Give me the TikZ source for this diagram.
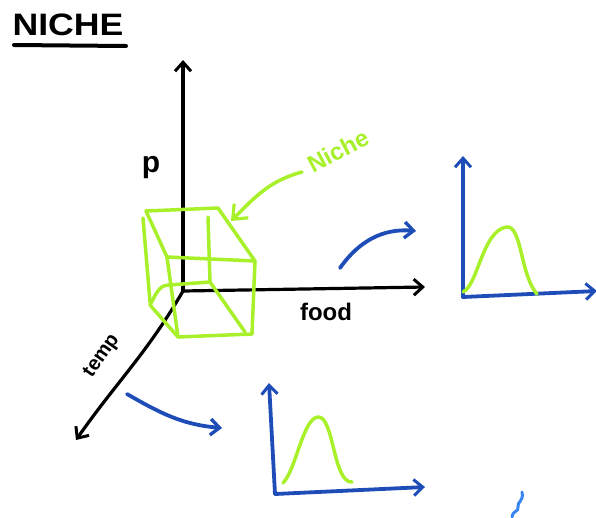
\documentclass[tikz,border=0pt]{standalone}
\usepackage{fontspec}
\setmainfont{Liberation Sans}
\usetikzlibrary{arrows.meta}
\definecolor{lime}{HTML}{A8F02A}
\definecolor{ink}{HTML}{1E4DB8}
\definecolor{sky}{HTML}{3A86F0}
\tikzset{
  blk/.style={line width=3.2pt, black, line cap=round, line join=round},
  axisarrow/.style={-{Straight Barb[length=9pt,width=16pt,line width=3pt]}},
  bl/.style={line width=3.8pt, ink, line cap=round, line join=round},
  gr/.style={line width=3.5pt, lime, line cap=round, line join=round},
  lbl/.style={font=\bfseries, inner sep=0pt},
}
\begin{document}
\begin{tikzpicture}[x=1pt,y=-1pt]
\useasboundingbox (0,0) rectangle (596,517);
% title
\node[lbl, font=\bfseries\fontsize{31}{33}\selectfont, xscale=1.15] (title) at (68,25) {NICHE};
\coordinate (ulA) at (14,45);
\coordinate (ulB) at (126,46);
\draw[line width=4pt, line cap=round] (ulA) -- (ulB);
% main axes
\coordinate (O) at (183,291);
\coordinate (ytop) at (183,60);
\coordinate (xend) at (425,287);
\coordinate (zend) at (76,440);
\draw[blk, axisarrow] (O) -- (ytop);
\draw[blk, axisarrow] (O) -- (xend);
\draw[blk, axisarrow] (O) to[out=-120, in=55] (zend);
\node[lbl, font=\bfseries\fontsize{30}{32}\selectfont] (plab) at (151,168) {p};
\node[lbl, font=\bfseries\fontsize{24}{26}\selectfont] (food) at (326,312) {food};
\node[lbl, font=\bfseries\fontsize{20}{22}\selectfont, rotate=55] (temp) at (102,356) {temp};
% niche cube
\coordinate (bTL) at (146,211);
\coordinate (bTR) at (218,208);
\coordinate (bBL) at (150,305);
\coordinate (bBR) at (210,282);
\coordinate (bML) at (169,285);
\coordinate (fTL) at (167,257);
\coordinate (fTR) at (255,261);
\coordinate (fBL) at (178,337);
\coordinate (fBR) at (252,334);
\draw[gr] (bTL) -- (bTR);
\draw[gr] (143,218) -- (150,302);
\draw[gr] (208,217) -- (210,282);
\draw[gr] (bTL) -- (fTL) -- (fTR);
\draw[gr] (bTR) -- (fTR) -- (fBR) -- (fBL) -- (bBL);
\draw[gr] (fTL) -- (fBL);
\draw[gr] (bML) -- (bBR) -- (245,332);
\draw[gr] (bML) to[out=180, in=60] (bBL);
% niche label and arrow
\node[lbl, font=\bfseries\fontsize{24}{26}\selectfont, lime, rotate=28] (nlab) at (338,151) {Niche};
\coordinate (nA) at (302,172);
\coordinate (nB) at (231,221);
\draw[gr, -{Straight Barb[length=12pt,width=20pt,line width=3.2pt]}] (nA) to[out=195, in=45] (nB);
% upper blue arrow and plot
\coordinate (ua) at (340,268);
\coordinate (ub) at (416,231);
\draw[bl, -{Straight Barb[length=9pt,width=16pt,line width=3.4pt]}] (ua) to[out=55, in=175] (ub);
\coordinate (O1) at (463,297);
\coordinate (y1) at (463,156);
\coordinate (x1) at (597,291);
\draw[bl, axisarrow] (O1) -- (y1);
\draw[bl, axisarrow] (O1) -- (x1);
\draw[gr] (463,292) .. controls (478,285) and (482,232) .. (506,227)
  .. controls (522,224) and (520,275) .. (537,294);
% lower blue arrow and plot
\coordinate (la) at (127,394);
\coordinate (lb) at (222,428);
\draw[bl, -{Straight Barb[length=9pt,width=16pt,line width=3.4pt]}] (la) to[out=-30, in=175] (lb);
\coordinate (O2) at (275,494);
\coordinate (y2) at (269,383);
\coordinate (x2) at (425,487);
\draw[bl, axisarrow] (O2) -- (y2);
\draw[bl, axisarrow] (O2) -- (x2);
\draw[gr] (283,483) .. controls (296,470) and (303,418) .. (318,417)
  .. controls (334,416) and (333,483) .. (352,482);
% small squiggle
\draw[line width=3pt, sky, line cap=round] (522,492) .. controls (524,502) and (517,501) .. (518,507)
  .. controls (519,512) and (513,510) .. (512,517);
\end{tikzpicture}
\end{document}
